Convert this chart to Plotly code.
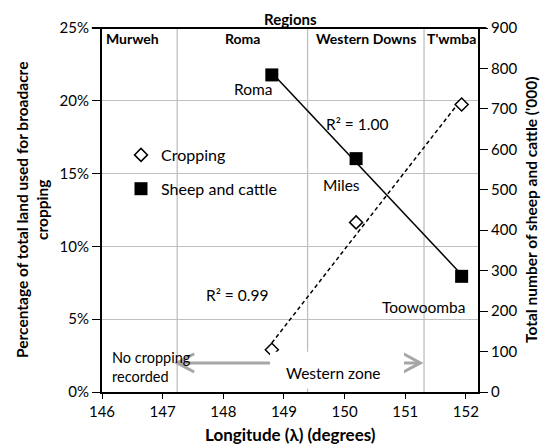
import numpy as np
import plotly.graph_objects as go

# Longitude of each town (degrees east)
towns = ["Roma", "Miles", "Toowoomba"]
longitude = [148.8, 150.19, 151.93]

# Share of total land used for broadacre cropping (fraction)
cropping_share = [0.029, 0.1165, 0.1975]

# Total sheep and cattle ('000 head)
sheep_cattle = [784, 577, 286]

# Regional boundaries (degrees) and labels across the top
region_bounds = [147.24, 149.39, 151.31]
region_names = ["Murweh", "Roma", "Western Downs", "T'wmba"]

# Zone annotation geometry along the bottom
zone_arrow_span = [147.24, 151.25]
zone_arrow_level = 0.020

X_RANGE = [146, 152.2]
FONT = "Lato"

def trend(x, y):
    x = np.asarray(x, float)
    y = np.asarray(y, float)
    slope, intercept = np.polyfit(x, y, 1)
    fit = slope * x + intercept
    r2 = 1 - np.sum((y - fit) ** 2) / np.sum((y - y.mean()) ** 2)
    xs = np.array([x.min(), x.max()])
    return xs, slope * xs + intercept, r2

crop_tx, crop_ty, crop_r2 = trend(longitude, cropping_share)
stock_tx, stock_ty, stock_r2 = trend(longitude, sheep_cattle)

fig = go.Figure()

# Trendlines
fig.add_trace(go.Scatter(x=crop_tx, y=crop_ty, mode="lines",
                         line=dict(color="black", width=1.5, dash="4px,3px"),
                         showlegend=False, hoverinfo="skip"))
fig.add_trace(go.Scatter(x=stock_tx, y=stock_ty, mode="lines", yaxis="y2",
                         line=dict(color="black", width=1.5),
                         showlegend=False, hoverinfo="skip"))

# Data points
fig.add_trace(go.Scatter(x=longitude, y=cropping_share, mode="markers",
                         name="Cropping", legendgroup="a",
                         marker=dict(symbol="diamond", size=10, color="white",
                                     line=dict(color="black", width=1.5))))
fig.add_trace(go.Scatter(x=longitude, y=sheep_cattle, mode="markers", yaxis="y2",
                         name="Sheep and cattle", legendgroup="b",
                         marker=dict(symbol="square", size=13, color="black",
                                     line=dict(color="black", width=0))))

shapes = []
# Region boundary lines
for b in region_bounds:
    shapes.append(dict(type="line", xref="x", yref="paper", x0=b, x1=b, y0=0, y1=1,
                       line=dict(color="#bfbfbf", width=1.3), layer="below"))
# Top border of the chart frame
shapes.append(dict(type="line", xref="paper", yref="paper", x0=-0.027, x1=1.022,
                   y0=1, y1=1, line=dict(color="black", width=2), layer="above"))

# Double-headed zone arrow with open chevron heads
x_lo, x_hi = zone_arrow_span
ay = zone_arrow_level
gray = "#a6a6a6"
hw, hh = 0.28, 0.0063
shapes.append(dict(type="line", xref="x", yref="y", x0=x_lo + 0.03, x1=x_hi - 0.03,
                   y0=ay, y1=ay, line=dict(color=gray, width=3), layer="above"))
shapes.append(dict(type="path", xref="x", yref="y",
                   path=f"M {x_lo + hw} {ay + hh} L {x_lo} {ay} L {x_lo + hw} {ay - hh}",
                   line=dict(color=gray, width=3), layer="above"))
shapes.append(dict(type="path", xref="x", yref="y",
                   path=f"M {x_hi - hw} {ay + hh} L {x_hi} {ay} L {x_hi - hw} {ay - hh}",
                   line=dict(color=gray, width=3), layer="above"))
# Label box for the zone name
shapes.append(dict(type="rect", xref="x", yref="y", x0=148.77, x1=150.98,
                   y0=0.0023, y1=0.0276, fillcolor="white",
                   line=dict(width=0), layer="above"))

ann = []
txt = dict(family=FONT, size=15.5, color="black")
bold = dict(family=FONT, size=14, color="black", weight="bold")

# Town labels next to the livestock points
ann.append(dict(x=longitude[0], y=sheep_cattle[0], xref="x", yref="y2", text=towns[0],
                showarrow=False, xanchor="right", yanchor="middle", xshift=2, yshift=-14,
                font=txt))
ann.append(dict(x=longitude[1], y=sheep_cattle[1], xref="x", yref="y2", text=towns[1],
                showarrow=False, xanchor="center", yanchor="middle", xshift=-15, yshift=-26,
                font=txt))
ann.append(dict(x=longitude[2], y=sheep_cattle[2], xref="x", yref="y2", text=towns[2],
                showarrow=False, xanchor="center", yanchor="middle", xshift=-38, yshift=-31,
                font=txt))

# R-squared labels
ann.append(dict(x=150.2, y=0.184, xref="x", yref="y", text=f"R² = {stock_r2:.2f}",
                showarrow=False, font=txt))
ann.append(dict(x=148.22, y=0.0665, xref="x", yref="y", text=f"R² = {crop_r2:.2f}",
                showarrow=False, font=txt))

# Zone texts
ann.append(dict(x=146.14, y=0.0172, xref="x", yref="y", text="No cropping<br>recorded",
                showarrow=False, xanchor="left", align="left",
                font=dict(family=FONT, size=14.5, color="black")))
ann.append(dict(x=149.81, y=0.013, xref="x", yref="y", text="Western zone",
                showarrow=False, font=txt))

# Region names along the top
region_edges = [X_RANGE[0]] + region_bounds + [X_RANGE[1]]
for i, name in enumerate(region_names):
    if i == 0:
        ann.append(dict(x=region_edges[0], y=0.9725, xref="x", yref="paper", text=name,
                        showarrow=False, xanchor="left", yanchor="middle", xshift=2,
                        font=bold))
    else:
        ann.append(dict(x=(region_edges[i] + region_edges[i + 1]) / 2, y=0.9725,
                        xref="x", yref="paper", text=name, showarrow=False,
                        yanchor="middle", font=bold))
ann.append(dict(x=0.5, y=1, xref="paper", yref="paper", text="Regions", showarrow=False,
                yanchor="bottom", yshift=-2,
                font=dict(family=FONT, size=15, color="black", weight="bold")))

# Axis titles
ann.append(dict(x=0.5, y=0, xref="paper", yref="paper", text="Longitude (λ) (degrees)",
                showarrow=False, yanchor="middle", yshift=-42,
                font=dict(family=FONT, size=17, color="black", weight="bold")))
ann.append(dict(x=0, y=0.5, xref="paper", yref="paper",
                text="Percentage of total land used for broadacre<br>cropping",
                showarrow=False, textangle=-90, xanchor="center", xshift=-70,
                font=dict(family=FONT, size=15.5, color="black", weight="bold")))
ann.append(dict(x=1, y=0.5, xref="paper", yref="paper",
                text="Total number of sheep and cattle ('000)",
                showarrow=False, textangle=-90, xanchor="center", xshift=53,
                font=dict(family=FONT, size=15.5, color="black", weight="bold")))

fig.update_layout(
    width=545, height=445,
    margin=dict(l=102, r=67, t=28, b=53, pad=0),
    paper_bgcolor="white", plot_bgcolor="white",
    font=dict(family=FONT, size=15, color="black"),
    xaxis=dict(range=X_RANGE, tickvals=[146, 147, 148, 149, 150, 151, 152],
               showgrid=False, zeroline=False, showline=True, linecolor="black",
               linewidth=2, ticks="outside", ticklen=5, tickwidth=1.3, tickcolor="black",
               tickfont=dict(family=FONT, size=15)),
    yaxis=dict(range=[0, 0.25], dtick=0.05, tickformat=".0%", showgrid=True,
               gridcolor="#bfbfbf", gridwidth=1.3, zeroline=False, showline=True,
               linecolor="black", linewidth=2, ticks="outside", ticklen=8, tickwidth=1.3,
               tickcolor="black", tickfont=dict(family=FONT, size=15)),
    yaxis2=dict(range=[0, 900], dtick=100, overlaying="y", side="right", showgrid=False,
                zeroline=False, showline=True, linecolor="black", linewidth=2,
                ticks="outside", ticklen=8, tickwidth=1.3, tickcolor="black",
                tickfont=dict(family=FONT, size=15)),
    legend=dict(x=(121 - 102) / 376, y=(392 - 138) / 364, xanchor="left", yanchor="top",
                bgcolor="rgba(0,0,0,0)", tracegroupgap=10,
                font=dict(family=FONT, size=16, color="black")),
    shapes=shapes, annotations=ann,
)

fig.write_html("out.html")
